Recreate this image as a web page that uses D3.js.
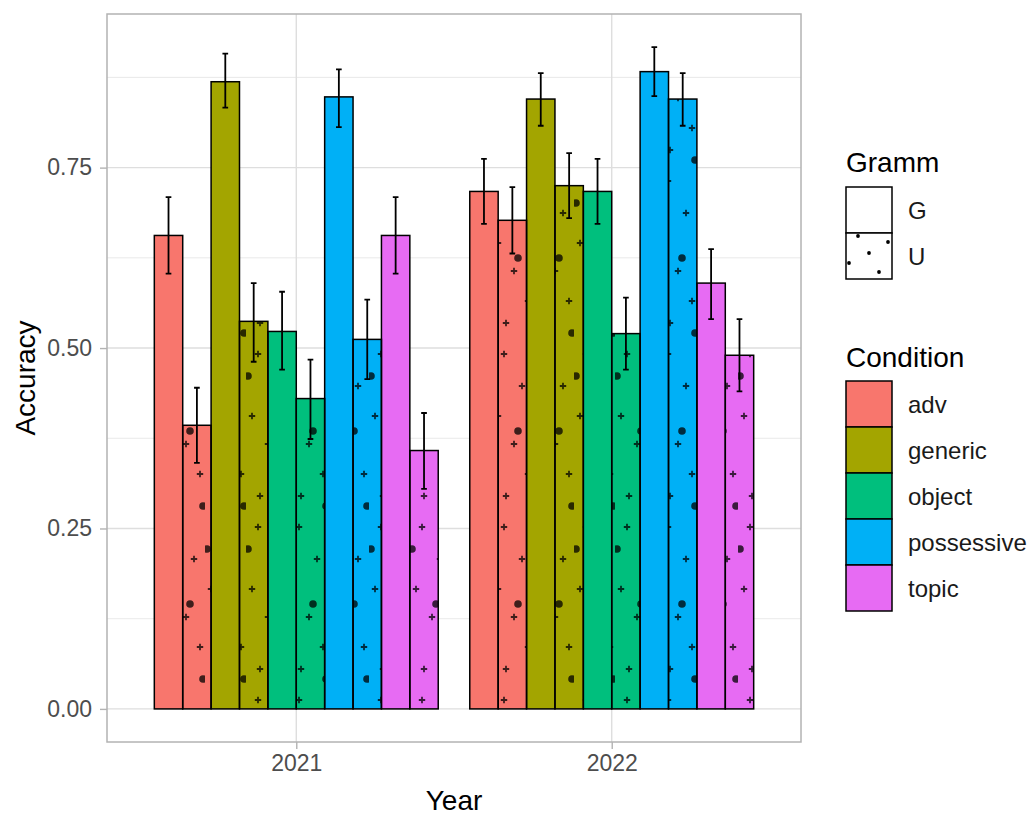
<!DOCTYPE html>
<html>
<head>
<meta charset="utf-8">
<script src="https://cdn.jsdelivr.net/npm/d3@7"></script>
<style>
  body { margin: 0; background: #fff; }
  svg { display: block; font-family: "Liberation Sans", Arial, sans-serif; }
</style>
</head>
<body>
<div id="chart"></div>
<script>
// data
const years = ["2021", "2022"];
const conditions = ["adv", "generic", "object", "possessive", "topic"];
const gramms = ["G", "U"];
const condColors = ["#F8766D", "#A3A500", "#00BF7D", "#00B0F6", "#E76BF3"];

// order: adv G, adv U, generic G, generic U, object G, object U, possessive G, possessive U, topic G, topic U
const means2021 = [0.656, 0.393, 0.869, 0.537, 0.523, 0.430, 0.848, 0.512, 0.656, 0.358];
const lower2021 = [0.603, 0.341, 0.833, 0.481, 0.470, 0.374, 0.806, 0.457, 0.603, 0.305];
const upper2021 = [0.709, 0.445, 0.908, 0.590, 0.578, 0.484, 0.886, 0.567, 0.709, 0.410];

const means2022 = [0.717, 0.677, 0.845, 0.725, 0.717, 0.520, 0.883, 0.845, 0.590, 0.490];
const lower2022 = [0.672, 0.631, 0.808, 0.680, 0.672, 0.470, 0.849, 0.808, 0.540, 0.440];
const upper2022 = [0.762, 0.723, 0.881, 0.770, 0.762, 0.570, 0.917, 0.881, 0.637, 0.540];

const yTicks = [0, 0.25, 0.5, 0.75];
const yMinor = [0.125, 0.375, 0.625, 0.875];

/** build rows from arrays */
const keys = [];
conditions.forEach(c => gramms.forEach(g => keys.push(c + "|" + g)));
const rows = [];
[[means2021, lower2021, upper2021], [means2022, lower2022, upper2022]].forEach((arr, yi) => {
  keys.forEach((k, i) => {
    const [c, g] = k.split("|");
    rows.push({ year: years[yi], key: k, cond: c, gramm: g, mean: arr[0][i], lo: arr[1][i], hi: arr[2][i] });
  });
});

const W = 1036, H = 816;
const panel = { left: 107, right: 801, top: 14, bottom: 742 };
const tickFont = 23, titleFont = 28, legendFont = 24;

const svg = d3.select("#chart").append("svg").attr("width", W).attr("height", H);
svg.append("rect").attr("width", W).attr("height", H).attr("fill", "#fff");

// pattern for the U bars: sparse crosses and dots
const defs = svg.append("defs");
const pat = defs.append("pattern")
  .attr("id", "dots")
  .attr("patternUnits", "userSpaceOnUse")
  .attr("width", 41).attr("height", 173);
const crosses = [[12, 8], [30, 40], [6, 70], [22, 98], [36, 128], [14, 150]];
const blobs = [[2, 30], [26, 85], [39, 160]];
crosses.forEach(([x, y]) => {
  pat.append("path")
    .attr("d", `M${x - 3.2},${y}H${x + 3.2}M${x},${y - 3.2}V${y + 3.2}`)
    .attr("stroke", "#000").attr("stroke-opacity", 0.75).attr("stroke-width", 1.8);
});
blobs.forEach(([x, y]) => {
  pat.append("circle").attr("cx", x).attr("cy", y).attr("r", 3.8)
    .attr("fill", "#000").attr("fill-opacity", 0.75);
});

/** scales */
const yMax = d3.max(rows, d => d.hi);
const pad = yMax * 0.05;
const y = d3.scaleLinear().domain([-pad, yMax + pad]).range([panel.bottom, panel.top]);
const x = d3.scalePoint().domain(years).range([panel.left, panel.right]).padding(0.6);
const step = x.step();
const xInner = d3.scaleBand().domain(keys).range([-0.45 * step, 0.45 * step]);
const color = d3.scaleOrdinal().domain(conditions).range(condColors);

/** grid */
const grid = svg.append("g");
grid.selectAll(".minor").data(yMinor).enter().append("line")
  .attr("x1", panel.left).attr("x2", panel.right)
  .attr("y1", d => y(d)).attr("y2", d => y(d))
  .attr("stroke", "#e3e3e3").attr("stroke-width", 0.8);
grid.selectAll(".major").data(yTicks).enter().append("line")
  .attr("x1", panel.left).attr("x2", panel.right)
  .attr("y1", d => y(d)).attr("y2", d => y(d))
  .attr("stroke", "#dedede").attr("stroke-width", 1.4);
grid.selectAll(".vmajor").data(years).enter().append("line")
  .attr("y1", panel.top).attr("y2", panel.bottom)
  .attr("x1", d => x(d)).attr("x2", d => x(d))
  .attr("stroke", "#dedede").attr("stroke-width", 1.4);

/** bars */
const bars = svg.append("g");
bars.selectAll("rect.fill").data(rows).enter().append("rect")
  .attr("x", d => x(d.year) + xInner(d.key))
  .attr("y", d => y(d.mean))
  .attr("width", xInner.bandwidth())
  .attr("height", d => y(0) - y(d.mean))
  .attr("fill", d => color(d.cond));
bars.selectAll("rect.pat").data(rows.filter(d => d.gramm === "U")).enter().append("rect")
  .attr("x", d => x(d.year) + xInner(d.key))
  .attr("y", d => y(d.mean))
  .attr("width", xInner.bandwidth())
  .attr("height", d => y(0) - y(d.mean))
  .attr("fill", "url(#dots)");
bars.selectAll("rect.outline").data(rows).enter().append("rect")
  .attr("x", d => x(d.year) + xInner(d.key))
  .attr("y", d => y(d.mean))
  .attr("width", xInner.bandwidth())
  .attr("height", d => y(0) - y(d.mean))
  .attr("fill", "none")
  .attr("stroke", "#000").attr("stroke-width", 1.5);

/** error bars */
const capW = xInner.bandwidth() * 0.2;
const err = svg.append("g").attr("stroke", "#000").attr("stroke-width", 1.8).attr("fill", "none");
err.selectAll("path").data(rows).enter().append("path")
  .attr("d", d => {
    const cx = x(d.year) + xInner(d.key) + xInner.bandwidth() / 2;
    return `M${cx - capW / 2},${y(d.hi)}H${cx + capW / 2}M${cx},${y(d.hi)}V${y(d.lo)}M${cx - capW / 2},${y(d.lo)}H${cx + capW / 2}`;
  });

/** panel border */
svg.append("rect")
  .attr("x", panel.left).attr("y", panel.top)
  .attr("width", panel.right - panel.left).attr("height", panel.bottom - panel.top)
  .attr("fill", "none").attr("stroke", "#b3b3b3").attr("stroke-width", 1.5);

/** axes */
const yAxis = svg.append("g")
  .attr("transform", `translate(${panel.left},0)`)
  .call(d3.axisLeft(y).tickValues(yTicks).tickFormat(d3.format(".2f")).tickSize(7).tickPadding(8));
const xAxis = svg.append("g")
  .attr("transform", `translate(0,${panel.bottom})`)
  .call(d3.axisBottom(x).tickSize(7).tickPadding(6));
[yAxis, xAxis].forEach(a => {
  a.select(".domain").remove();
  a.selectAll(".tick line").attr("stroke", "#b3b3b3").attr("stroke-width", 1.4);
  a.selectAll(".tick text").attr("fill", "#4d4d4d")
    .style("font-size", tickFont + "px").style("font-family", "Liberation Sans, Arial, sans-serif");
});

svg.append("text")
  .attr("x", (panel.left + panel.right) / 2).attr("y", 810)
  .attr("text-anchor", "middle")
  .style("font-size", titleFont + "px")
  .text("Year");
svg.append("text")
  .attr("transform", `translate(35,${(panel.top + panel.bottom) / 2}) rotate(-90)`)
  .attr("text-anchor", "middle")
  .style("font-size", titleFont + "px")
  .text("Accuracy");

/** legends */
const keyX = 846, keyS = 46, labelX = 908;
const lg1 = svg.append("g");
lg1.append("text").attr("x", keyX).attr("y", 172).style("font-size", titleFont + "px").text("Gramm");
gramms.forEach((g, i) => {
  const ky = 187 + i * keyS;
  lg1.append("rect").attr("x", keyX).attr("y", ky).attr("width", keyS).attr("height", keyS)
    .attr("fill", "#fff").attr("stroke", "#000").attr("stroke-width", 1.5);
  if (g === "U") {
    [[12, 3], [42, 9], [23, 20], [3, 30], [33, 39]].forEach(([dx, dy]) => {
      lg1.append("circle").attr("cx", keyX + dx).attr("cy", ky + dy).attr("r", 1.9).attr("fill", "#000");
    });
  }
  lg1.append("text").attr("x", labelX).attr("y", ky + keyS / 2)
    .attr("dominant-baseline", "central").attr("fill", "#1a1a1a")
    .style("font-size", legendFont + "px").text(g);
});

const lg2 = svg.append("g");
lg2.append("text").attr("x", keyX).attr("y", 367).style("font-size", titleFont + "px").text("Condition");
conditions.forEach((c, i) => {
  const ky = 381 + i * keyS;
  lg2.append("rect").attr("x", keyX).attr("y", ky).attr("width", keyS).attr("height", keyS)
    .attr("fill", color(c)).attr("stroke", "#000").attr("stroke-width", 1.5);
  lg2.append("text").attr("x", labelX).attr("y", ky + keyS / 2)
    .attr("dominant-baseline", "central").attr("fill", "#1a1a1a")
    .style("font-size", legendFont + "px").text(c);
});
</script>
</body>
</html>
